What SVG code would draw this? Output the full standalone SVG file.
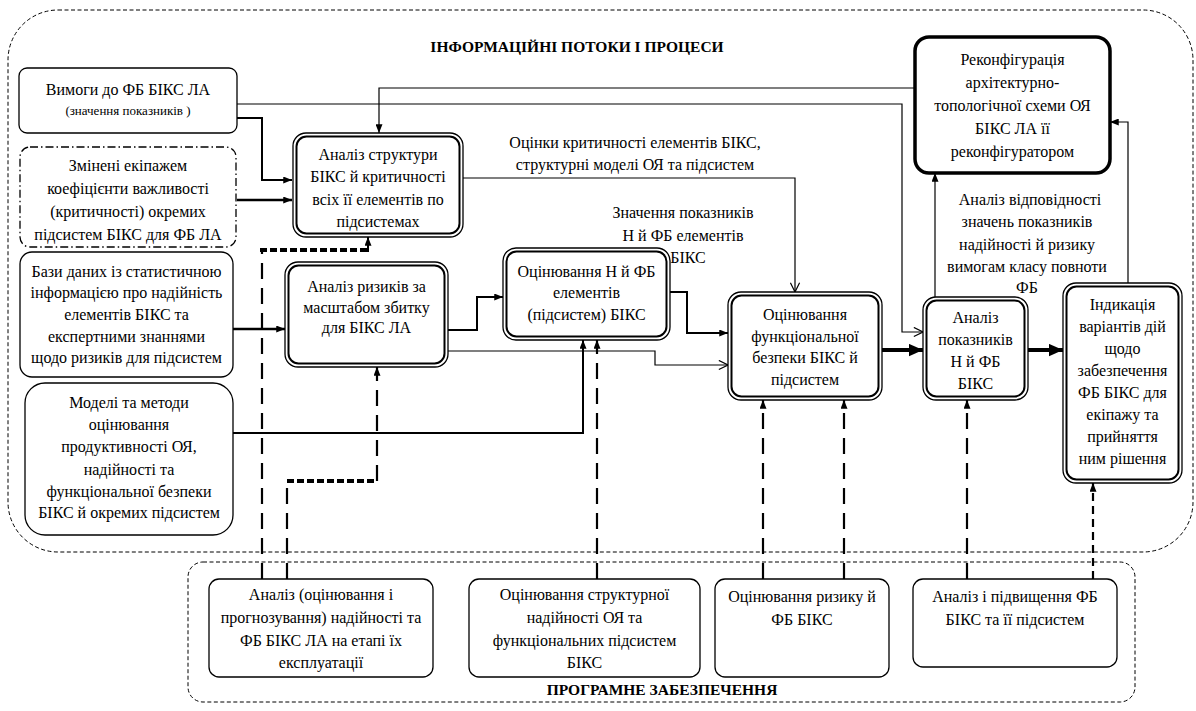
<svg xmlns="http://www.w3.org/2000/svg" width="1196" height="711" viewBox="0 0 1196 711" font-family="'Liberation Serif', 'Times New Roman', 'DejaVu Serif', serif">
<defs>
<style>
text{font-family:'Liberation Serif','Times New Roman','DejaVu Serif',serif;font-size:16px;fill:#000;text-anchor:middle}
.sm{font-size:13px}
.tt{font-size:15.5px;font-weight:bold}
.box{fill:#fff;stroke:#000;stroke-width:1.3}
.inner{fill:none;stroke:#000;stroke-width:2}
.cont{fill:none;stroke:#000;stroke-width:1;stroke-dasharray:4 2.5}
.ln{fill:none;stroke:#000}
.t1{stroke-width:1.2}
.t2{stroke-width:2}
.t25{stroke-width:2.6}
.t4{stroke-width:4}
.dsh{stroke-width:2.2;stroke-dasharray:16 9}
.dsh2{stroke-width:2.2;stroke-dasharray:8 5}
.dot{stroke-width:3.8;stroke-dasharray:7 3}
</style>
<marker id="af" viewBox="0 0 10 8" markerWidth="9" markerHeight="7" refX="10" refY="4" orient="auto" markerUnits="userSpaceOnUse"><path d="M0,0 L10,4 L0,8 z" fill="#000"/></marker>
<marker id="av" viewBox="0 0 12 12" markerWidth="11" markerHeight="11" refX="11" refY="6" orient="auto" markerUnits="userSpaceOnUse"><path d="M1,1 L11,6 L1,11" fill="none" stroke="#000" stroke-width="1.3"/></marker>
<marker id="ab" viewBox="0 0 16 14" markerWidth="14" markerHeight="13" refX="16" refY="7" orient="auto" markerUnits="userSpaceOnUse"><path d="M0,0 L16,7 L0,14 z" fill="#000"/></marker>
</defs>
<rect width="1196" height="711" fill="#fff"/>

<g id="containers">
<rect class="cont" x="8" y="10" width="1185" height="542" rx="50"/>
<text class="tt" x="577" y="52">ІНФОРМАЦІЙНІ ПОТОКИ І ПРОЦЕСИ</text>
<rect class="cont" x="188" y="562" width="947" height="140" rx="15"/>
<text class="tt" x="662" y="695">ПРОГРАМНЕ ЗАБЕЗПЕЧЕННЯ</text>
</g>

<g id="connectors">
<path class="ln t1" d="M915,88 H379 V133" marker-end="url(#af)"/>
<path class="ln t1" d="M237,104 H902 V332 H923" marker-end="url(#av)"/>
<path class="ln t2" d="M237,118 H262 V180 H292" marker-end="url(#af)"/>
<path class="ln t25" d="M237,200 H292" marker-end="url(#af)"/>
<path class="ln t1" d="M463,178 H795 V292" marker-end="url(#av)"/>
<path class="ln dsh" d="M262,579 V250"/>
<path class="ln dot" d="M260,250 H368"/>
<path class="ln t2" d="M368,252 V237" marker-end="url(#af)"/>
<path class="ln dsh" d="M287,579 V481"/>
<path class="ln dot" d="M287,481 H377"/>
<path class="ln dsh" d="M377,481 V367" marker-end="url(#af)"/>
<path class="ln t25" d="M233,329 H285" marker-end="url(#af)"/>
<path class="ln t2" d="M233,433 H583 V340" marker-end="url(#af)"/>
<path class="ln t2" d="M448,330 H477 V297 H503" marker-end="url(#af)"/>
<path class="ln t1" d="M448,351 H655 V365 H728" marker-end="url(#av)"/>
<path class="ln t2" d="M670,292 H687 V333 H728" marker-end="url(#af)"/>
<path class="ln t4" d="M882,350 H923" marker-end="url(#ab)"/>
<path class="ln t4" d="M1028,350 H1063" marker-end="url(#ab)"/>
<path class="ln t1" d="M935,297 V173" marker-end="url(#af)"/>
<path class="ln t1" d="M1128,283 V122 H1110" marker-end="url(#af)"/>
<path class="ln dsh" d="M597,579 V340" marker-end="url(#af)"/>
<path class="ln dsh" d="M763,579 V400" marker-end="url(#af)"/>
<path class="ln dsh" d="M844,579 V400" marker-end="url(#af)"/>
<path class="ln dsh" d="M967,579 V400" marker-end="url(#af)"/>
<path class="ln dsh2" d="M1093,579 V483" marker-end="url(#af)"/>
</g>

<g id="n-vymohy">
<rect class="box" x="19" y="68" width="218" height="65" rx="8"/>
<text x="128" y="95">Вимоги до ФБ БІКС ЛА</text>
<text class="sm" x="128" y="115">(значення показників )</text>
</g>
<g id="n-zmineni">
<rect class="box" x="20" y="147" width="216" height="100" rx="10" style="stroke-dasharray:8 3 1.5 3"/>
<text x="128" y="171">Змінені екіпажем</text>
<text x="128" y="194">коефіцієнти важливості</text>
<text x="128" y="217">(критичності) окремих</text>
<text x="128" y="240">підсистем БІКС для ФБ ЛА</text>
</g>
<g id="n-bazy">
<rect class="box" x="20" y="252" width="213" height="125" rx="12"/>
<text x="126.5" y="277">Бази даних із статистичною</text>
<text x="126.5" y="298">інформацією про надійність</text>
<text x="126.5" y="320">елементів БІКС та</text>
<text x="126.5" y="342">експертними знаннями</text>
<text x="126.5" y="363">щодо ризиків для підсистем</text>
</g>
<g id="n-modeli">
<rect class="box" x="25" y="383" width="208" height="152" rx="20"/>
<text x="129" y="408">Моделі та методи</text>
<text x="129" y="430">оцінювання</text>
<text x="129" y="452">продуктивності ОЯ,</text>
<text x="129" y="475">надійності та</text>
<text x="129" y="497">функціональної безпеки</text>
<text x="129" y="518">БІКС й окремих підсистем</text>
</g>

<g id="n-struktura">
<rect class="box" x="293" y="133" width="170" height="104" rx="13"/>
<rect class="inner" x="296.5" y="136.5" width="163" height="97" rx="10"/>
<text x="378" y="160">Аналіз структури</text>
<text x="378" y="182">БІКС й критичності</text>
<text x="378" y="205">всіх її елементів по</text>
<text x="378" y="227">підсистемах</text>
</g>
<g id="n-ryzyky">
<rect class="box" x="285" y="262" width="163" height="105" rx="13"/>
<rect class="inner" x="288.5" y="265.5" width="156" height="98" rx="10"/>
<text x="366.5" y="292">Аналіз ризиків за</text>
<text x="366.5" y="313">масштабом збитку</text>
<text x="366.5" y="333">для БІКС ЛА</text>
</g>
<g id="n-otsin-n-fb">
<rect class="box" x="503" y="248" width="167" height="92" rx="13"/>
<rect class="inner" x="506.5" y="251.5" width="160" height="85" rx="10"/>
<text x="586.5" y="277">Оцінювання Н й ФБ</text>
<text x="586.5" y="298">елементів</text>
<text x="586.5" y="320">(підсистем) БІКС</text>
</g>
<g id="n-fb">
<rect class="box" x="728" y="292" width="154" height="108" rx="13"/>
<rect class="inner" x="731.5" y="295.5" width="147" height="101" rx="10"/>
<text x="805" y="320">Оцінювання</text>
<text x="805" y="342">функціональної</text>
<text x="805" y="363">безпеки БІКС й</text>
<text x="805" y="385">підсистем</text>
</g>
<g id="n-analiz-pokaz">
<rect class="box" x="923" y="297" width="105" height="103" rx="13"/>
<rect class="inner" x="926.5" y="300.5" width="98" height="96" rx="10"/>
<text x="975.5" y="323">Аналіз</text>
<text x="975.5" y="345">показників</text>
<text x="975.5" y="367">Н й ФБ</text>
<text x="975.5" y="389">БІКС</text>
</g>
<g id="n-indykatsiia">
<rect class="box" x="1063" y="283" width="119" height="200" rx="13"/>
<rect class="inner" x="1066.5" y="286.5" width="112" height="193" rx="10"/>
<text x="1122.5" y="310">Індикація</text>
<text x="1122.5" y="332">варіантів дій</text>
<text x="1122.5" y="354">щодо</text>
<text x="1122.5" y="376">забезпечення</text>
<text x="1122.5" y="398">ФБ БІКС для</text>
<text x="1122.5" y="420">екіпажу та</text>
<text x="1122.5" y="442">прийняття</text>
<text x="1122.5" y="464">ним рішення</text>
</g>
<g id="n-rekonf">
<rect x="915" y="37" width="195" height="136" rx="14" fill="#fff" stroke="#000" stroke-width="3.5"/>
<text x="1012.5" y="65">Реконфігурація</text>
<text x="1012.5" y="88">архітектурно-</text>
<text x="1012.5" y="111">топологічної схеми ОЯ</text>
<text x="1012.5" y="134">БІКС ЛА її</text>
<text x="1012.5" y="157">реконфігуратором</text>
</g>

<g id="n-sw1">
<rect class="box" x="209" y="579" width="224" height="98" rx="10"/>
<text x="321" y="600">Аналіз (оцінювання і</text>
<text x="321" y="623">прогнозування) надійності та</text>
<text x="321" y="646">ФБ БІКС ЛА на етапі їх</text>
<text x="321" y="668">експлуатації</text>
</g>
<g id="n-sw2">
<rect class="box" x="469" y="579" width="231" height="98" rx="10"/>
<text x="584.5" y="600">Оцінювання структурної</text>
<text x="584.5" y="623">надійності ОЯ та</text>
<text x="584.5" y="646">функціональних підсистем</text>
<text x="584.5" y="668">БІКС</text>
</g>
<g id="n-sw3">
<rect class="box" x="715" y="579" width="174" height="98" rx="10"/>
<text x="802" y="602">Оцінювання ризику й</text>
<text x="802" y="625">ФБ БІКС</text>
</g>
<g id="n-sw4">
<rect class="box" x="913" y="579" width="204" height="88" rx="10"/>
<text x="1015" y="602">Аналіз і підвищення ФБ</text>
<text x="1015" y="625">БІКС та її підсистем</text>
</g>

<g id="labels">
<text x="635" y="148">Оцінки критичності елементів БІКС,</text>
<text x="635" y="170">структурні моделі ОЯ та підсистем</text>
<text x="683" y="218">Значення показників</text>
<text x="683" y="241">Н й ФБ елементів</text>
<text x="688" y="263">БІКС</text>
<text x="1030" y="205">Аналіз відповідності</text>
<text x="1027" y="227">значень показників</text>
<text x="1027" y="250">надійності й ризику</text>
<text x="1027" y="272">вимогам класу повноти</text>
<text x="1027" y="293">ФБ</text>
</g>
</svg>
